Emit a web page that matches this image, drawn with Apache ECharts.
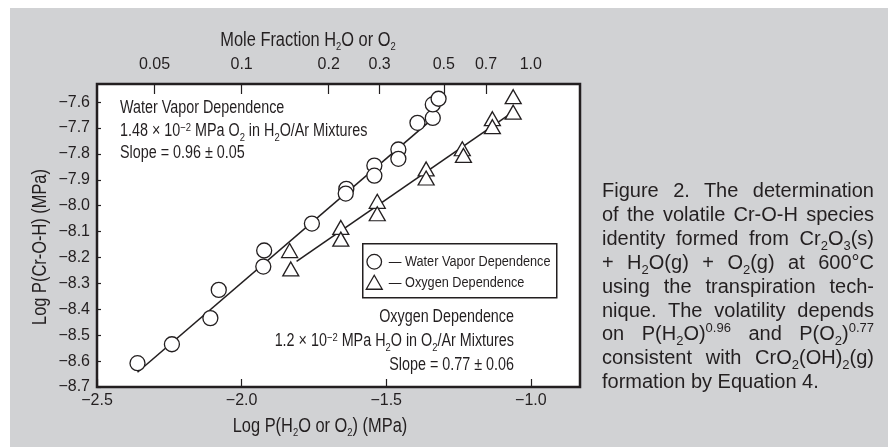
<!DOCTYPE html>
<html>
<head>
<meta charset="utf-8">
<title>Cr-O-H volatility</title>
<script src="https://cdn.jsdelivr.net/npm/echarts@6/dist/echarts.min.js"></script>
<style>
    html, body { margin: 0; padding: 0; background: #fff; }
    #panel { position: absolute; left: 10px; top: 8px; width: 878px; height: 439px; background: #d1d2d4; }
    #chart { position: absolute; left: 0; top: 0; width: 888px; height: 447px; }
    #caption {
        position: absolute; left: 602px; top: 179px; width: 272px;
        font-family: 'Liberation Sans', Arial, sans-serif; font-size: 20px; line-height: 23.9px; color: #231f20;
    }
    #caption .j { text-align: justify; text-align-last: justify; }
    #caption sub { font-size: 13px; vertical-align: -5px; line-height: 0; }
    #caption sup { font-size: 13px; vertical-align: 8px; line-height: 0; }
</style>
</head>
<body>
<div id="panel"></div>
<div id="chart"></div>
<div id="caption">
    <div class="j">Figure 2. The determination</div>
    <div class="j">of the volatile Cr-O-H species</div>
    <div class="j">identity formed from Cr<sub>2</sub>O<sub>3</sub>(s)</div>
    <div class="j">+ H<sub>2</sub>O(g) + O<sub>2</sub>(g) at 600°C</div>
    <div class="j">using the transpiration tech-</div>
    <div class="j">nique. The volatility depends</div>
    <div class="j">on P(H<sub>2</sub>O)<sup>0.96</sup> and P(O<sub>2</sub>)<sup>0.77</sup></div>
    <div class="j">consistent with CrO<sub>2</sub>(OH)<sub>2</sub>(g)</div>
    <div>formation by Equation 4.</div>
</div>
<script>
    // log P(H2O) and log P(Cr-O-H), water vapour series (circles)
    var waterX = [-2.360, -2.241, -2.108, -2.079, -1.922, -1.925, -1.757, -1.638, -1.640,
                  -1.541, -1.541, -1.458, -1.458, -1.392, -1.339, -1.339, -1.319];
    var waterY = [-8.608, -8.535, -8.434, -8.325, -8.173, -8.235, -8.069, -7.935, -7.953,
                  -7.845, -7.884, -7.783, -7.819, -7.680, -7.661, -7.609, -7.587];

    // log P(O2) and log P(Cr-O-H), oxygen series (triangles)
    var oxygenX = [-1.834, -1.830, -1.657, -1.657, -1.531, -1.531, -1.362, -1.362,
                   -1.237, -1.233, -1.133, -1.133, -1.061, -1.061];
    var oxygenY = [-8.173, -8.244, -8.084, -8.129, -7.983, -8.031, -7.858, -7.893,
                   -7.780, -7.806, -7.664, -7.695, -7.579, -7.639];

    // fitted lines (end points)
    var waterFitX = [-2.360, -1.320];
    var waterFitY = [-8.643, -7.645];
    var oxygenFitX = [-1.810, -1.060];
    var oxygenFitY = [-8.215, -7.637];

    // top axis: mole fraction at 0.1 MPa total pressure
    var moleFractions = [0.05, 0.1, 0.2, 0.3, 0.5, 0.7, 1.0];
    var moleFractionLabels = ['0.05', '0.1', '0.2', '0.3', '0.5', '0.7', '1.0'];
    var totalPressure = 0.1;

    var legendNames = ['Water Vapor Dependence', 'Oxygen Dependence'];

    var ink = '#231f20';
    var font = "'Liberation Sans', Arial, sans-serif";
    var squeeze = 0.82; // no condensed face installed, so narrow the text by scaling

    function pairs(xs, ys) {
        return xs.map(function (x, i) { return [x, ys[i]]; });
    }
    function neg(v) {
        return (v < 0 ? '\u2212' : '') + Math.abs(v).toFixed(1);
    }

    var topValues = moleFractions.map(function (f) { return Math.log10(f * totalPressure); });

    var rich = {
        sub: { fontSize: 11.5, fontFamily: font, fill: ink, padding: [13, 0, 0, 0] },
        sup: { fontSize: 11.5, fontFamily: font, fill: ink, padding: [0, 0, 8, 0] }
    };
    function label(text, x, y, align, size, rotation) {
        return {
            type: 'text', x: x, y: y, scaleX: squeeze, rotation: rotation || 0,
            style: {
                text: text, fill: ink, fontSize: size || 17.5, fontFamily: font,
                align: align || 'left', verticalAlign: 'middle', rich: rich
            }
        };
    }

    // legend box drawn by hand so its text can be narrowed like the rest
    var legendBox = {
        type: 'group', left: 362, top: 243,
        children: [
            { type: 'rect', shape: { x: 0, y: 0, width: 194, height: 54 },
              style: { fill: '#fff', stroke: ink, lineWidth: 1.5 } },
            { type: 'circle', shape: { cx: 11.5, cy: 18, r: 7.3 },
              style: { fill: '#fff', stroke: ink, lineWidth: 1.3 } },
            { type: 'polygon', shape: { points: [[11.5, 31.5], [19.5, 45.5], [3.5, 45.5]] },
              style: { fill: '#fff', stroke: ink, lineWidth: 1.3 } },
            label('\u2014 ' + legendNames[0], 26, 18, 'left', 15.5),
            label('\u2014 ' + legendNames[1], 26, 38.5, 'left', 15.5)
        ]
    };

    var chart = echarts.init(document.getElementById('chart'), null, { renderer: 'canvas' });

    chart.setOption({
        animation: false,
        textStyle: { fontFamily: font, color: ink },
        grid: {
            left: 97, top: 84, right: 308, bottom: 60,
            show: true, backgroundColor: '#fff', borderColor: ink, borderWidth: 2.5
        },
        xAxis: [{
            type: 'value', position: 'bottom', min: -2.5, max: -0.83, interval: 0.5,
            axisLine: { show: false }, splitLine: { show: false },
            axisTick: { inside: true, length: 8, lineStyle: { color: ink, width: 1.2 } },
            axisLabel: { margin: 6, fontSize: 16, color: ink, showMaxLabel: false, formatter: neg }
        }, {
            type: 'value', position: 'top', min: -2.5, max: -0.83,
            axisLine: { show: false }, splitLine: { show: false },
            axisTick: { inside: true, length: 10, customValues: topValues.slice(0, 6),
                        lineStyle: { color: ink, width: 1.2 } },
            axisLabel: {
                margin: 11, fontSize: 16, color: ink, customValues: topValues,
                formatter: function (v) {
                    for (var i = 0; i < topValues.length; i++) {
                        if (Math.abs(topValues[i] - v) < 1e-6) { return moleFractionLabels[i]; }
                    }
                    return '';
                }
            }
        }],
        yAxis: {
            type: 'value', min: -8.7, max: -7.53, interval: 0.1,
            axisLine: { show: false }, splitLine: { show: false },
            axisTick: { inside: true, length: 4, lineStyle: { color: ink, width: 1.2 } },
            axisLabel: { margin: 7, fontSize: 16, color: ink, showMaxLabel: false, formatter: neg }
        },
        graphic: [
            label('Mole Fraction H{sub|2}O or O{sub|2}', 308, 40, 'center', 20),
            label('Log P(H{sub|2}O or O{sub|2}) (MPa)', 320, 426, 'center', 20),
            label('Log P(Cr-O-H) (MPa)', 40, 247, 'center', 20, Math.PI / 2),
            label('Water Vapor Dependence', 120, 108),
            label('1.48 \u00d7 10{sup|\u22122} MPa O{sub|2} in H{sub|2}O/Ar Mixtures', 120, 131.5),
            label('Slope = 0.96 \u00b1 0.05', 120, 153.5),
            label('Oxygen Dependence', 514, 317, 'right'),
            label('1.2 \u00d7 10{sup|\u22122} MPa H{sub|2}O in O{sub|2}/Ar Mixtures', 514, 341.5, 'right'),
            label('Slope = 0.77 \u00b1 0.06', 514, 365, 'right'),
            legendBox
        ],
        series: [{
            name: 'waterFit', type: 'line', data: pairs(waterFitX, waterFitY),
            symbol: 'none', silent: true, z: 2,
            lineStyle: { color: ink, width: 1.6 }
        }, {
            name: 'oxygenFit', type: 'line', data: pairs(oxygenFitX, oxygenFitY),
            symbol: 'none', silent: true, z: 2,
            lineStyle: { color: ink, width: 1.6 }
        }, {
            name: legendNames[0], type: 'scatter', data: pairs(waterX, waterY),
            symbol: 'circle', symbolSize: 15, z: 3,
            itemStyle: { color: '#fff', borderColor: ink, borderWidth: 1.3, opacity: 1 }
        }, {
            name: legendNames[1], type: 'scatter', data: pairs(oxygenX, oxygenY),
            symbol: 'triangle', symbolSize: [16, 14], z: 3,
            itemStyle: { color: '#fff', borderColor: ink, borderWidth: 1.3, opacity: 1 }
        }]
    });
</script>
</body>
</html>
